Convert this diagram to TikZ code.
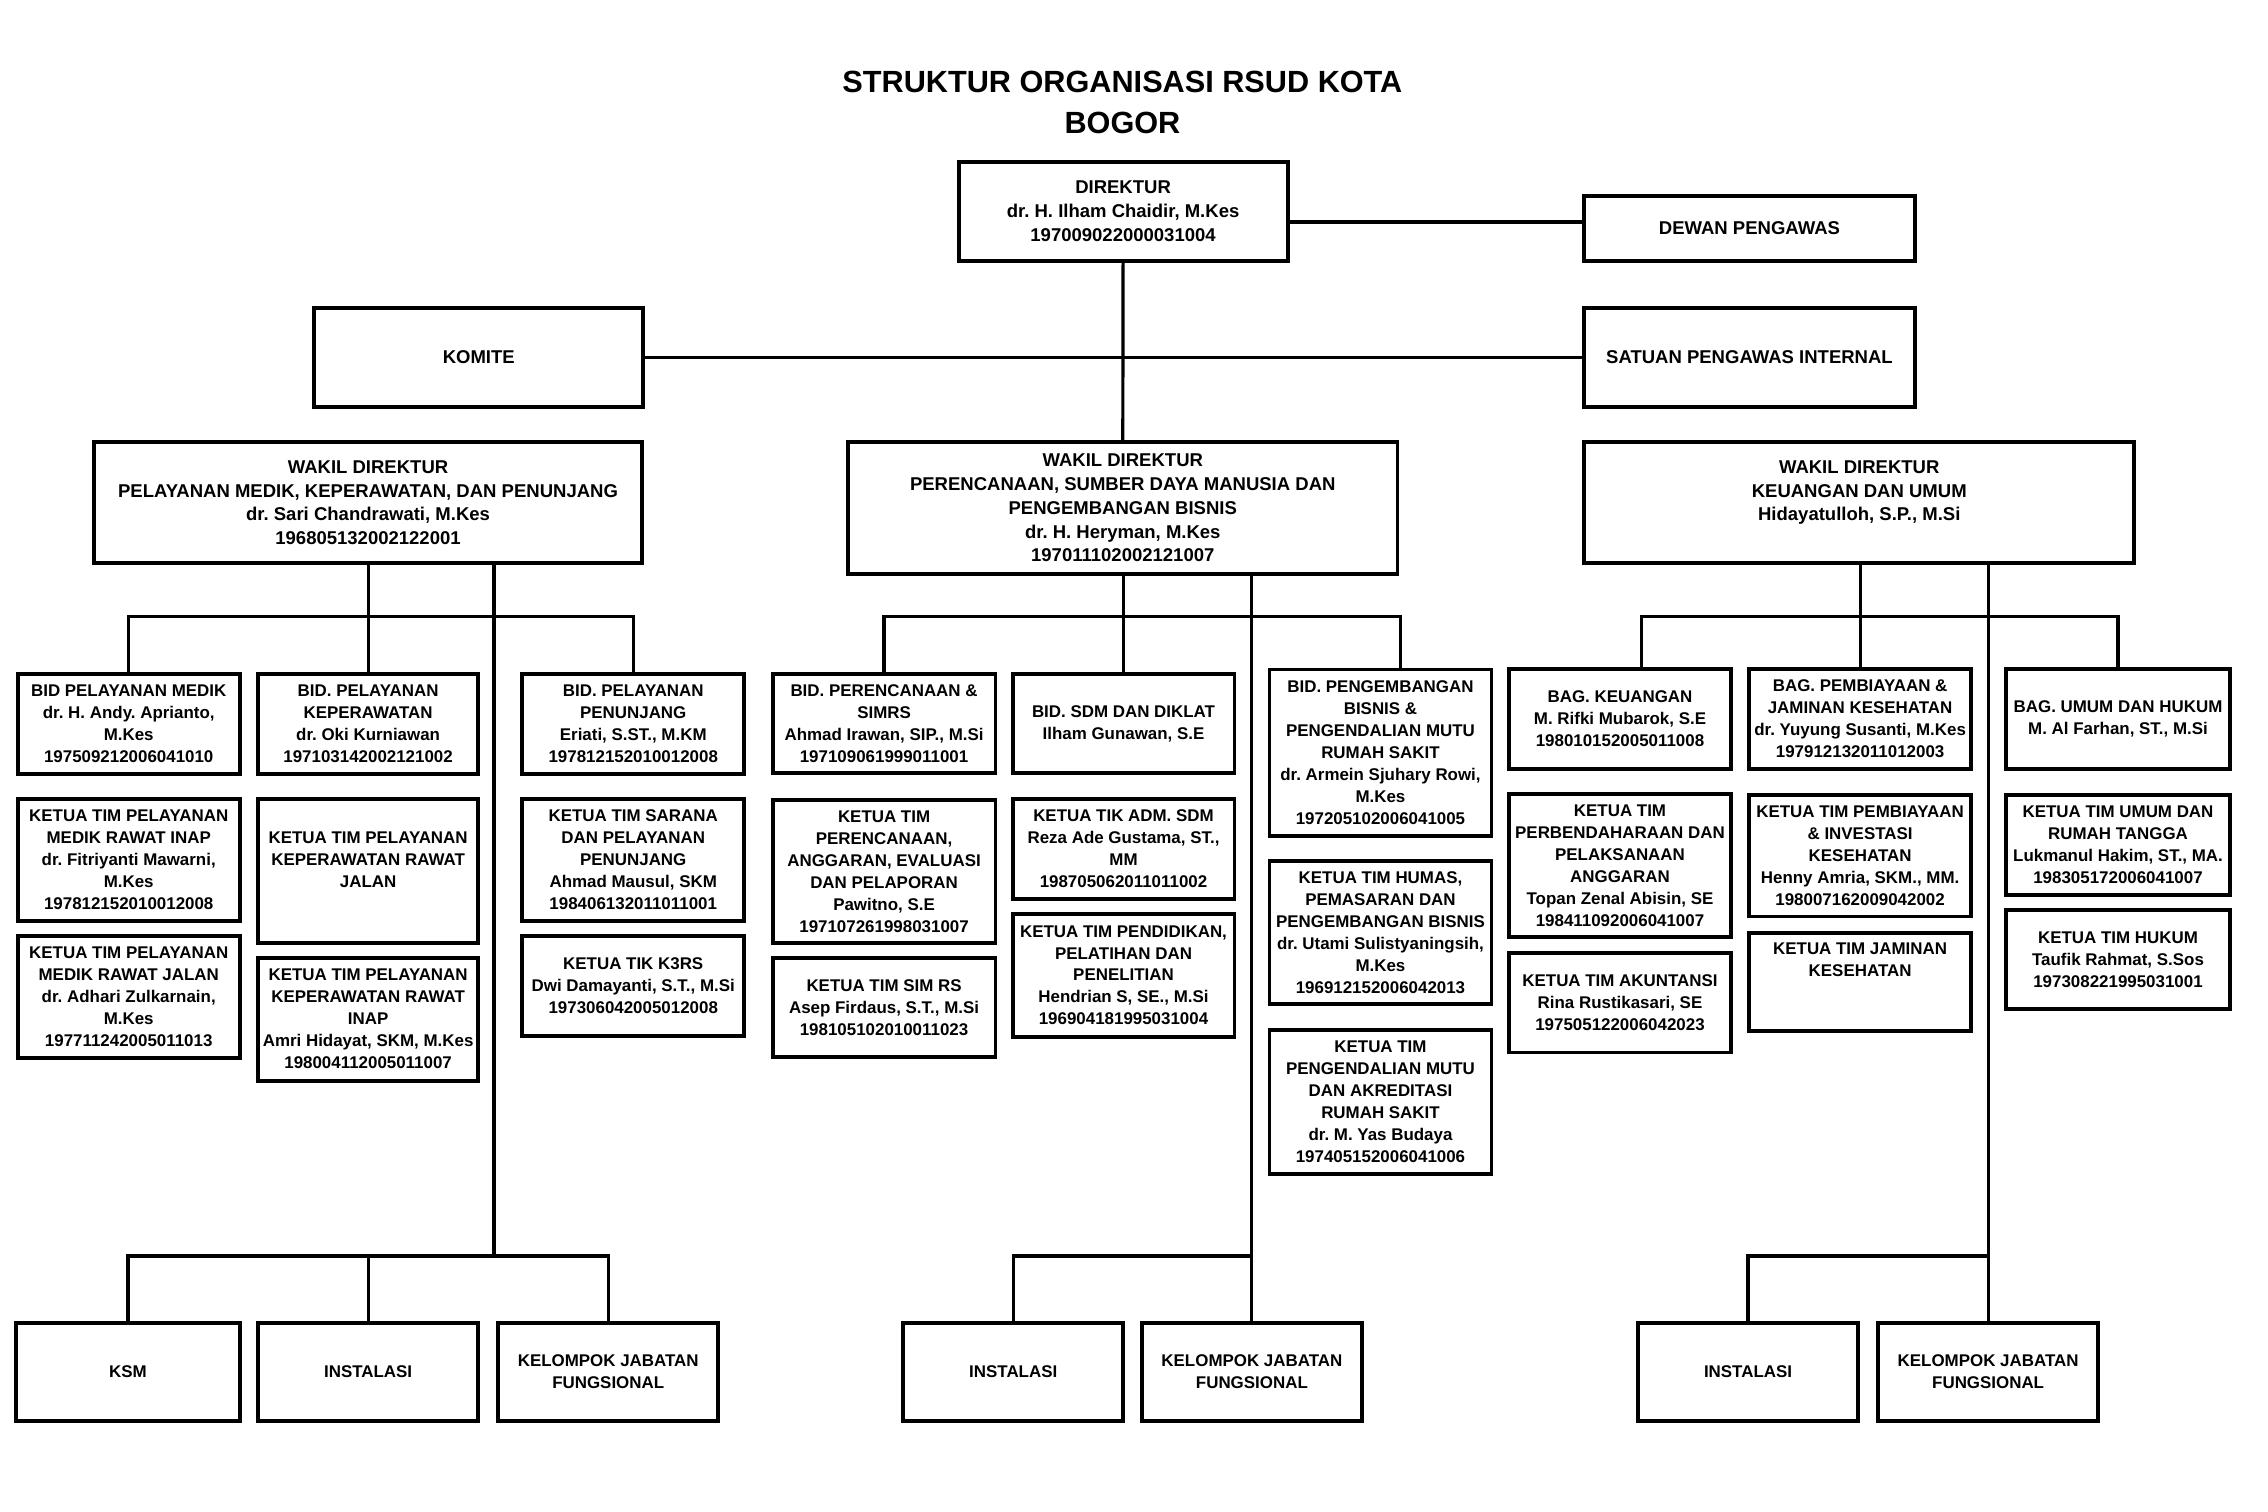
\documentclass[tikz,border=0pt]{standalone}
\usepackage{fontspec}
\setmainfont{Liberation Sans}
\frenchspacing
\newcommand\boxfont{\fontsize{11.7}{15.2}\selectfont\bfseries\frenchspacing}
\newcommand\bigboxfont{\fontsize{12.8}{16.4}\selectfont\bfseries\frenchspacing}
\newcommand\titlefont{\fontsize{21.2}{28}\selectfont\bfseries}
\newcommand\obox[7][]{\node[box, #1, minimum width={#5-#3-2.7}, minimum height={#6-#4-2.7}] (#2) at ({(#3+#5)/2},{(#4+#6)/2}) {#7};}
\tikzset{
  box/.style={draw=black, line width=2.7pt, inner sep=0pt, align=center, font=\boxfont, text=black},
  bigbox/.style={font=\bigboxfont},
  conn/.style={draw=black, line width=2.2pt},
  ttl/.style={align=center, font=\titlefont, text=black, inner sep=0pt}
}
\begin{document}
\begin{tikzpicture}[x=1pt,y=-1pt]
\useasboundingbox[fill=white] (0,0) rectangle (1568,1045.33);
\node[ttl] (title) at (776,71) {STRUKTUR ORGANISASI RSUD KOTA\\BOGOR};
% top level
\obox[bigbox]{dir}{661.4}{110.6}{891.5}{181.5}{DIREKTUR\\dr. H. Ilham Chaidir, M.Kes\\197009022000031004}
\obox[bigbox]{dewan}{1094}{134}{1325}{181.5}{DEWAN PENGAWAS}
\obox[bigbox]{komite}{216}{211.6}{446}{282.6}{KOMITE}
\obox[bigbox]{spi}{1094}{211.6}{1325}{282.6}{SATUAN PENGAWAS INTERNAL}
\obox[bigbox]{wl}{63.5}{304.3}{445.4}{390.8}{WAKIL DIREKTUR\\PELAYANAN MEDIK, KEPERAWATAN, DAN PENUNJANG\\dr. Sari Chandrawati, M.Kes\\196805132002122001}
\obox[bigbox]{wm}{585}{304.3}{967.5}{398.2}{WAKIL DIREKTUR\\PERENCANAAN, SUMBER DAYA MANUSIA DAN\\PENGEMBANGAN BISNIS\\dr. H. Heryman, M.Kes\\197011102002121007}
\obox[bigbox]{wr}{1094}{304.3}{1476.8}{390.8}{WAKIL DIREKTUR\\KEUANGAN DAN UMUM\\Hidayatulloh, S.P., M.Si\\\mbox{}}
% column 1
\obox{c1a}{11}{464.4}{167}{536.3}{BID PELAYANAN MEDIK\\dr. H. Andy. Aprianto,\\M.Kes\\197509212006041010}
\obox{c1b}{11}{550.8}{167}{638.3}{KETUA TIM PELAYANAN\\MEDIK RAWAT INAP\\dr. Fitriyanti Mawarni,\\M.Kes\\197812152010012008}
\obox{c1c}{11}{645.7}{167}{732.8}{KETUA TIM PELAYANAN\\MEDIK RAWAT JALAN\\dr. Adhari Zulkarnain,\\M.Kes\\197711242005011013}
% column 2
\obox{c2a}{177}{464.4}{332}{536.3}{BID. PELAYANAN\\KEPERAWATAN\\dr. Oki Kurniawan\\197103142002121002}
\obox{c2b}{177}{550.8}{332}{653.3}{KETUA TIM PELAYANAN\\KEPERAWATAN RAWAT\\JALAN\\\mbox{}}
\obox{c2c}{177}{660.7}{332}{748.5}{KETUA TIM PELAYANAN\\KEPERAWATAN RAWAT\\INAP\\Amri Hidayat, SKM, M.Kes\\198004112005011007}
% column 3
\obox{c3a}{359.6}{464.4}{516}{536.3}{BID. PELAYANAN\\PENUNJANG\\Eriati, S.ST., M.KM\\197812152010012008}
\obox{c3b}{359.6}{550.8}{516}{638.3}{KETUA TIM SARANA\\DAN PELAYANAN\\PENUNJANG\\Ahmad Mausul, SKM\\198406132011011001}
\obox{c3c}{359.6}{645.7}{516}{717.4}{KETUA TIK K3RS\\Dwi Damayanti, S.T., M.Si\\197306042005012008}
% column 4
\obox{c4a}{532.8}{464.6}{689.6}{535.8}{BID. PERENCANAAN \&\\SIMRS\\Ahmad Irawan, SIP., M.Si\\197109061999011001}
\obox{c4b}{532.8}{551.5}{689.6}{653.4}{KETUA TIM\\PERENCANAAN,\\ANGGARAN, EVALUASI\\DAN PELAPORAN\\Pawitno, S.E\\197107261998031007}
\obox{c4c}{532.8}{661}{689.6}{732}{KETUA TIM SIM RS\\Asep Firdaus, S.T., M.Si\\198105102010011023}
% column 5
\obox{c5a}{698.7}{464.6}{854.8}{535.8}{BID. SDM DAN DIKLAT\\Ilham Gunawan, S.E}
\obox{c5b}{698.7}{551}{854.8}{623}{KETUA TIK ADM. SDM\\Reza Ade Gustama, ST.,\\MM\\198705062011011002}
\obox{c5c}{698.7}{630.5}{854.8}{718}{KETUA TIM PENDIDIKAN,\\PELATIHAN DAN\\PENELITIAN\\Hendrian S, SE., M.Si\\196904181995031004}
% column 6
\obox{c6a}{876.3}{461.5}{1032.5}{579.4}{BID. PENGEMBANGAN\\BISNIS \&\\PENGENDALIAN MUTU\\RUMAH SAKIT\\dr. Armein Sjuhary Rowi,\\M.Kes\\197205102006041005}
\obox{c6b}{876.3}{594}{1032.5}{695.5}{KETUA TIM HUMAS,\\PEMASARAN DAN\\PENGEMBANGAN BISNIS\\dr. Utami Sulistyaningsih,\\M.Kes\\196912152006042013}
\obox{c6c}{876.3}{711}{1032.5}{813}{KETUA TIM\\PENGENDALIAN MUTU\\DAN AKREDITASI\\RUMAH SAKIT\\dr. M. Yas Budaya\\197405152006041006}
% column 7
\obox{c7a}{1042}{461}{1198}{533}{BAG. KEUANGAN\\M. Rifki Mubarok, S.E\\198010152005011008}
\obox{c7b}{1042}{547.6}{1198}{649}{KETUA TIM\\PERBENDAHARAAN DAN\\PELAKSANAAN\\ANGGARAN\\Topan Zenal Abisin, SE\\198411092006041007}
\obox{c7c}{1042}{657.5}{1198}{729}{KETUA TIM AKUNTANSI\\Rina Rustikasari, SE\\197505122006042023}
% column 8
\obox{c8a}{1208}{461}{1364}{533}{BAG. PEMBIAYAAN \&\\JAMINAN KESEHATAN\\dr. Yuyung Susanti, M.Kes\\197912132011012003}
\obox{c8b}{1208}{548}{1364}{635}{KETUA TIM PEMBIAYAAN\\\& INVESTASI\\KESEHATAN\\Henny Amria, SKM., MM.\\198007162009042002}
\obox{c8c}{1208}{643.6}{1364}{714}{KETUA TIM JAMINAN\\KESEHATAN\\\mbox{}\\\mbox{}}
% column 9
\obox{c9a}{1385.6}{461}{1543}{533}{BAG. UMUM DAN HUKUM\\M. Al Farhan, ST., M.Si}
\obox{c9b}{1385.6}{548}{1543}{620}{KETUA TIM UMUM DAN\\RUMAH TANGGA\\Lukmanul Hakim, ST., MA.\\198305172006041007}
\obox{c9c}{1385.6}{628}{1543}{699}{KETUA TIM HUKUM\\Taufik Rahmat, S.Sos\\197308221995031001}
% bottom row
\obox{ksm}{10}{913}{167}{984}{KSM}
\obox{instL}{177}{913}{332}{984}{INSTALASI}
\obox{kjfL}{343}{913}{498}{984}{KELOMPOK JABATAN\\FUNGSIONAL}
\obox{instM}{623}{913}{778}{984}{INSTALASI}
\obox{kjfM}{788}{913}{943}{984}{KELOMPOK JABATAN\\FUNGSIONAL}
\obox{instR}{1131}{913}{1286}{984}{INSTALASI}
\obox{kjfR}{1297}{913}{1452}{984}{KELOMPOK JABATAN\\FUNGSIONAL}
% helper coordinates
\coordinate (busTop) at (0,426);
\coordinate (busBot) at (0,868.4);
\coordinate (dewL) at (0,153.5);
\coordinate (vL) at (341.5,0);
\coordinate (d6) at (968,0);
\coordinate (d7) at (1135,0);
% connectors top
\draw[conn] (dir.south) -- (wm.north);
\draw[conn] (komite.east) -- (spi.west);
\draw[conn] (dir.east |- dewL) -- (dewan.west |- dewL);
% left group
\draw[conn] (wl.south -| c2a.north) -- (c2a.north);
\draw[conn] (c1a.north) -- (c1a.north |- busTop) -- (c3a.north |- busTop) -- (c3a.north);
\draw[conn] (wl.south -| vL) -- (vL |- busBot);
\draw[conn] (ksm.north) -- (ksm.north |- busBot) -- (kjfL.north |- busBot) -- (kjfL.north);
\draw[conn] (instL.north) -- (instL.north |- busBot);
% middle group
\draw[conn] (wm.south -| c5a.north) -- (c5a.north);
\draw[conn] (c4a.north) -- (c4a.north |- busTop) -- (d6 |- busTop) -- (d6 |- c6a.north);
\draw[conn] (wm.south -| kjfM.north) -- (kjfM.north);
\draw[conn] (instM.north) -- (instM.north |- busBot) -- (kjfM.north |- busBot);
% right group
\draw[conn] (wr.south -| c8a.north) -- (c8a.north);
\draw[conn] (d7 |- c7a.north) -- (d7 |- busTop) -- (c9a.north |- busTop) -- (c9a.north);
\draw[conn] (wr.south -| kjfR.north) -- (kjfR.north);
\draw[conn] (instR.north) -- (instR.north |- busBot) -- (kjfR.north |- busBot);
\end{tikzpicture}
\end{document}
